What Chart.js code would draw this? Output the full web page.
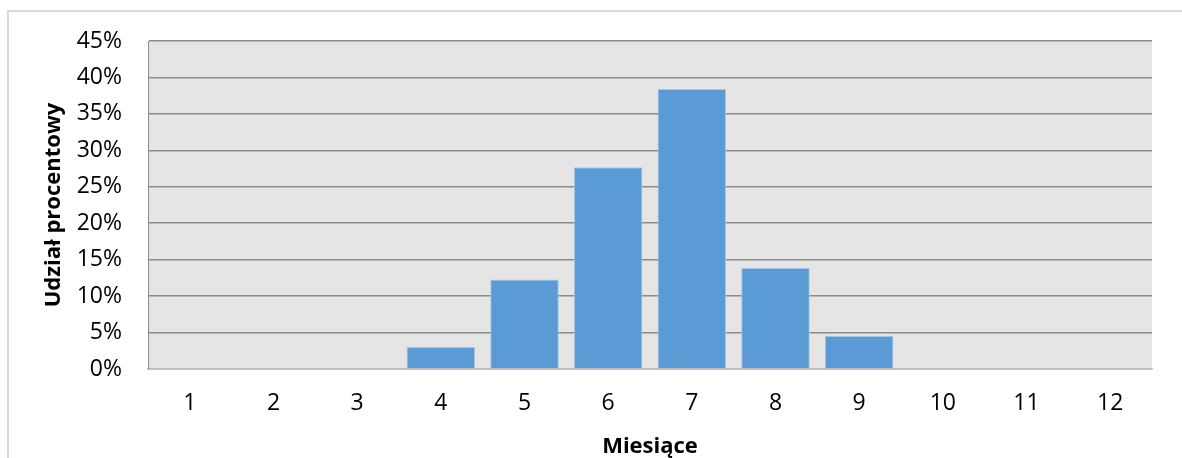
<!DOCTYPE html>
<html>
<head>
<meta charset="utf-8">
<script src="https://cdn.jsdelivr.net/npm/chart.js@4"></script>
<style>
  html, body { margin: 0; padding: 0; background: #fff; }
  #wrap { width: 1182px; height: 458px; }
</style>
</head>
<body>
<div id="wrap"><canvas id="chart"></canvas></div>
<script>
const months = ['1', '2', '3', '4', '5', '6', '7', '8', '9', '10', '11', '12'];
const shares = [0, 0, 0, 3.05, 12.27, 27.67, 38.4, 13.84, 4.56, 0, 0, 0];
const yTicks = [0, 5, 10, 15, 20, 25, 30, 35, 40, 45];

const FONT = '"Open Sans", sans-serif';

// grey plot background + outer chart frame
const frame = {
    id: 'frame',
    beforeDraw(chart) {
        const { ctx, chartArea: a } = chart;
        ctx.save();
        ctx.strokeStyle = '#d9d9d9';
        ctx.lineWidth = 2;
        ctx.beginPath();
        ctx.moveTo(8, 460);
        ctx.lineTo(8, 11);
        ctx.lineTo(1184, 11);
        ctx.stroke();
        ctx.fillStyle = '#e5e5e5';
        ctx.fillRect(a.left, a.top, a.right - a.left, a.bottom - a.top);
        ctx.restore();
    }
};

new Chart(document.getElementById('chart'), {
    type: 'bar',
    data: {
        labels: months,
        datasets: [{
            data: shares,
            backgroundColor: '#5b9bd5',
            borderColor: '#a9c8e8',
            borderWidth: 1,
            barPercentage: 0.82,
            categoryPercentage: 1
        }]
    },
    options: {
        responsive: true,
        maintainAspectRatio: false,
        animation: false,
        layout: { padding: { top: 41, right: 30, bottom: 0, left: 0 } },
        plugins: { legend: { display: false }, tooltip: { enabled: false } },
        scales: {
            x: {
                grid: { display: false, drawTicks: false },
                border: { display: true, color: '#bfbfbf', width: 1.5 },
                ticks: { color: '#000', padding: 21, font: { family: FONT, size: 23 } },
                title: {
                    display: true,
                    text: 'Miesiące',
                    color: '#000',
                    padding: { top: 0, bottom: 0 },
                    font: { family: FONT, size: 22, weight: 'bold', lineHeight: 1 }
                },
                afterFit(axis) { axis.height = 89; }
            },
            y: {
                min: 0,
                max: 45,
                afterBuildTicks(axis) { axis.ticks = yTicks.map(v => ({ value: v })); },
                grid: { color: '#8c8c8c', lineWidth: 1.5, drawTicks: false },
                border: { display: true, color: '#8c8c8c', width: 1 },
                ticks: {
                    color: '#000',
                    padding: 26,
                    font: { family: FONT, size: 23 },
                    callback: v => v + '%'
                },
                title: {
                    display: true,
                    text: 'Udział procentowy',
                    color: '#000',
                    padding: { top: 41, bottom: 0 },
                    font: { family: FONT, size: 22, weight: 'bold' }
                },
                afterFit(axis) { axis.width = 148; }
            }
        }
    },
    plugins: [frame]
});
</script>
</body>
</html>
